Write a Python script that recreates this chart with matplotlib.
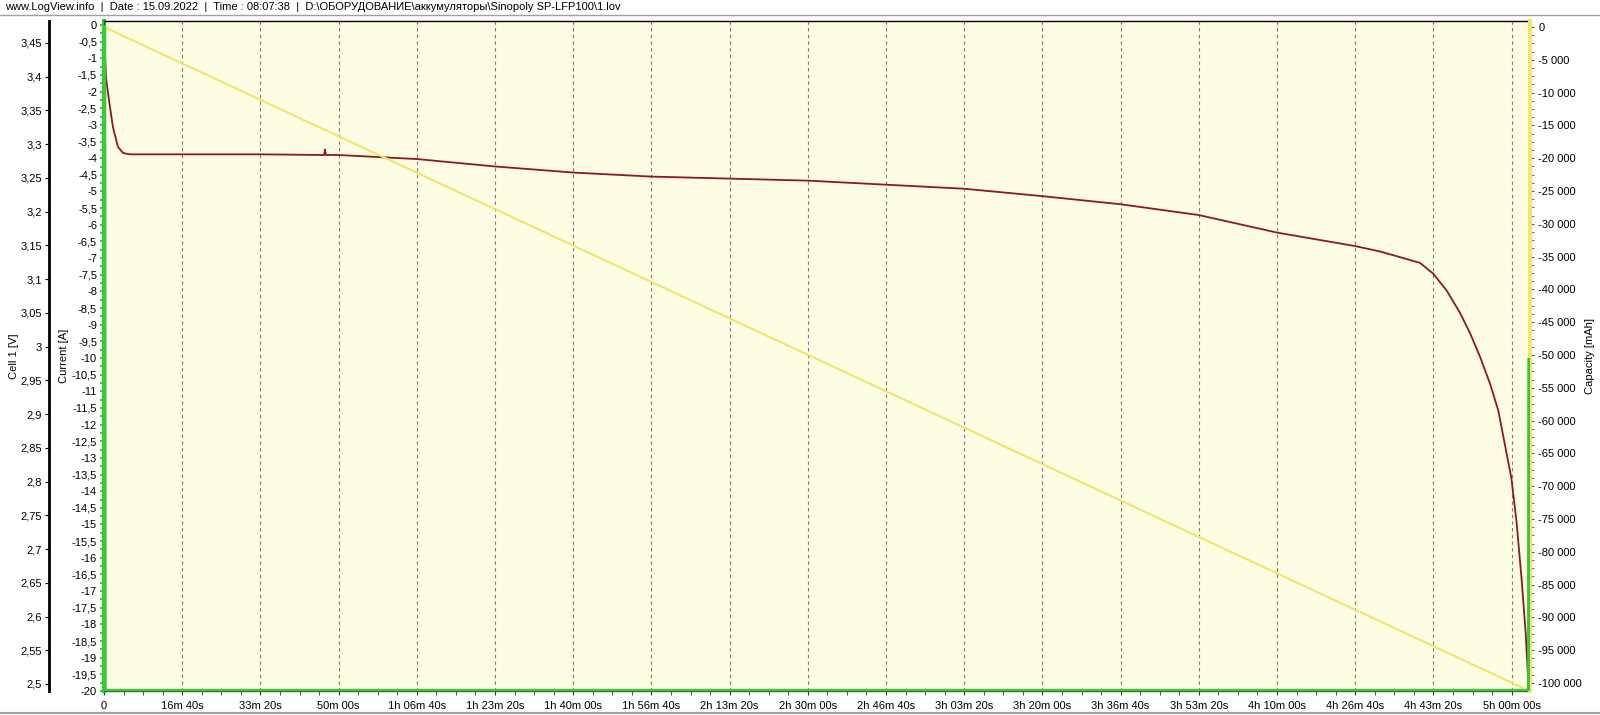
import numpy as np
import matplotlib
matplotlib.use("Agg")
import matplotlib.pyplot as plt
from matplotlib.ticker import MultipleLocator, FuncFormatter

plt.rcParams['font.family'] = ['Liberation Sans', 'DejaVu Sans']

# data (time in seconds)
t_volt = [0, 10, 26, 64, 115, 179, 243, 330, 1000, 2000, 2815, 2826, 2837,
          3000, 4000, 5000, 6000, 7000, 8000, 9000, 10000, 11000, 12000,
          13000, 14000, 15000, 16000, 16317, 16561, 16829, 16999, 17170,
          17340, 17468, 17596, 17724, 17830, 17997, 18063, 18128, 18180,
          18219]
volt = [3.483, 3.44, 3.398, 3.365, 3.325, 3.296, 3.287, 3.285, 3.285, 3.285,
        3.284, 3.292, 3.284, 3.284, 3.278, 3.267, 3.258, 3.252, 3.249, 3.246,
        3.240, 3.234, 3.223, 3.211, 3.195, 3.169, 3.149, 3.141, 3.133, 3.124,
        3.108, 3.083, 3.050, 3.020, 2.985, 2.945, 2.905, 2.805, 2.740, 2.655,
        2.575, 2.490]

t_curr = [0, 5, 18225, 18230]
curr = [0, -20, -20, -10]

t_cap = [0, 18230]
cap = [0, -101220]

header = ("www.LogView.info  |  Date : 15.09.2022  |  Time : 08:07:38  |  "
          "D:\\ОБОРУДОВАНИЕ\\аккумуляторы\\Sinopoly SP-LFP100\\1.lov")

c_volt = '#8b1a1a'
c_curr = '#3cc83c'
c_cap = '#efe66a'
c_bg = '#fdfde4'

W, H = 1600, 715
fig = plt.figure(figsize=(16, 7.15), dpi=100)

x0, x1, y0, y1 = 104, 1530, 21, 691
ax = fig.add_axes([x0 / W, 1 - y1 / H, (x1 - x0) / W, (y1 - y0) / H])
ax.set_facecolor(c_bg)

def fmt_time(t, pos):
    t = int(round(t))
    if t == 0:
        return "0"
    h, r = divmod(t, 3600)
    m, s = divmod(r, 60)
    if h:
        return f"{h}h {m:02d}m {s:02d}s"
    return f"{m}m {s:02d}s"

def fmt_dec(v, pos):
    s = f"{v:.2f}".rstrip('0').rstrip('.')
    if s == "-0":
        s = "0"
    return s.replace('.', ',')

def fmt_cap(v, pos):
    return f"{int(round(v)):,}".replace(',', ' ')

fs = 8

# current (host axes)
ax.plot(t_curr, curr, color=c_curr, lw=3, solid_capstyle='butt', zorder=3)
ax.set_xlim(0, 18235)
ax.set_ylim(-20, 0.12)
ax.xaxis.set_major_locator(MultipleLocator(1000))
ax.xaxis.set_minor_locator(MultipleLocator(250))
ax.xaxis.set_major_formatter(FuncFormatter(fmt_time))
ax.yaxis.set_major_locator(MultipleLocator(0.5))
ax.yaxis.set_minor_locator(MultipleLocator(0.25))
ax.yaxis.set_major_formatter(FuncFormatter(fmt_dec))
ax.grid(axis='x', which='major', color='#7a7a7a', ls=(0, (3, 3)), lw=0.8)
ax.tick_params(axis='x', which='both', labelsize=fs, length=3, pad=4, color='#333333')
ax.tick_params(axis='y', which='both', labelsize=fs, length=3, pad=2, color=c_curr, width=1.5)
ax.spines['left'].set_color(c_curr)
ax.spines['left'].set_linewidth(3)
ax.spines['bottom'].set_color('#2a7a2a')
ax.spines['bottom'].set_linewidth(1)
ax.spines['top'].set_color('black')
ax.spines['top'].set_linewidth(1)
ax.spines['right'].set_visible(False)

# voltage axis (outer left)
ax_v = ax.twinx()
ax_v.plot(t_volt, volt, color=c_volt, lw=1.3, zorder=2)
ax_v.set_ylim(2.4896, 3.4826)
ax_v.yaxis.set_ticks_position('left')
ax_v.spines['left'].set_position(('axes', (49 - x0) / (x1 - x0)))
ax_v.spines['left'].set_linewidth(2)
ax_v.spines['left'].set_color('black')
for s in ['right', 'top', 'bottom']:
    ax_v.spines[s].set_visible(False)
ax_v.yaxis.set_major_locator(MultipleLocator(0.05))
ax_v.yaxis.set_major_formatter(FuncFormatter(fmt_dec))
ax_v.tick_params(axis='y', labelsize=fs, length=3, pad=2)

# capacity axis (right)
ax_c = ax.twinx()
ax_c.plot(t_cap, cap, color=c_cap, lw=1.5, zorder=2)
ax_c.set_ylim(-101220, 915)
ax_c.yaxis.set_major_locator(MultipleLocator(5000))
ax_c.yaxis.set_minor_locator(MultipleLocator(1250))
ax_c.yaxis.set_major_formatter(FuncFormatter(fmt_cap))
ax_c.spines['right'].set_color(c_cap)
ax_c.spines['right'].set_linewidth(3)
for s in ['left', 'top', 'bottom']:
    ax_c.spines[s].set_visible(False)
ax_c.tick_params(axis='y', which='both', labelsize=fs, length=3, pad=3, color='#555555')

# redraw current on top so the green edges show over the other lines
ax_c.plot(t_curr, curr, color=c_curr, lw=3, solid_capstyle='butt',
          transform=ax.transData, zorder=4)

fig.text(14 / W, 1 - 356 / H, "Cell 1 [V]", rotation=90, ha='center', va='center', fontsize=fs)
fig.text(64 / W, 1 - 356 / H, "Current [A]", rotation=90, ha='center', va='center', fontsize=fs)
fig.text(1590 / W, 1 - 356 / H, "Capacity [mAh]", rotation=90, ha='center', va='center', fontsize=fs)

fig.text(5 / W, 1 - 7 / H, header, ha='left', va='center', fontsize=fs)
fig.add_artist(plt.Line2D([0, 1], [1 - 15 / H, 1 - 15 / H], color='#a0a0a0', lw=1))
fig.add_artist(plt.Line2D([0, 1], [1 - 713 / H, 1 - 713 / H], color='#a0a0a0', lw=1.5))

fig.savefig("out.png", dpi=100)
